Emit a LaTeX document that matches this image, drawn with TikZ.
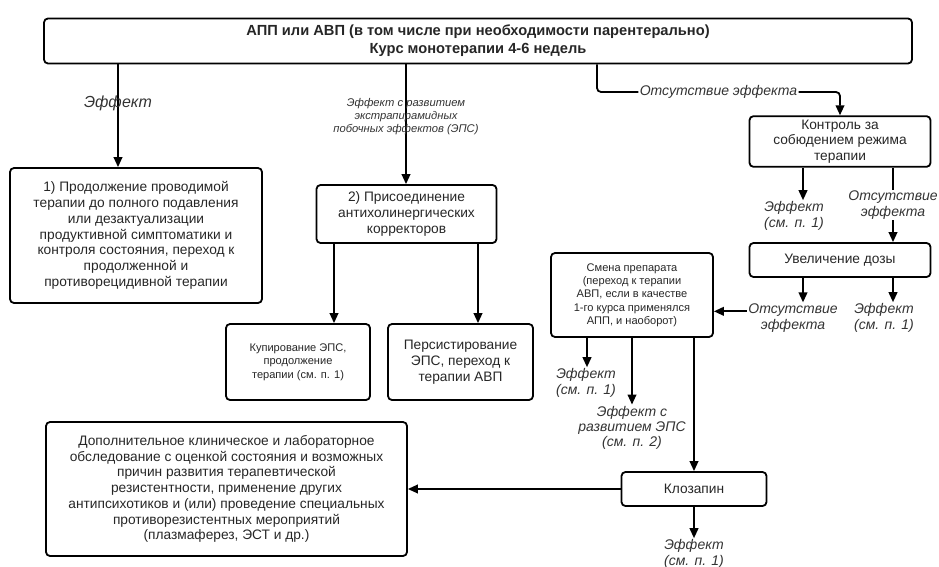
\documentclass[tikz,border=0pt]{standalone}
\usepackage{fontspec}
\setmainfont{Liberation Sans}
\usetikzlibrary{
    positioning,
    arrows.meta,
    calc,
}
\tikzset{
    % Box styles
    stage/.style={rectangle, draw, rounded corners=3pt, line width=1.35pt,
                  align=center, inner sep=2pt, text=black!85},
    % Arrow styles
    arrow/.style={-{Triangle[length=7.5pt,width=6.5pt]}, line width=1.35pt},
    % Annotation styles
    annot/.style={font=\fontsize{10.5}{11.5}\selectfont\itshape, align=center,
                  inner sep=1pt, text=black!80},
}

\begin{document}
\begin{tikzpicture}[x=0.75pt, y=-0.75pt,
    main/.style={stage, font=\fontsize{10.3}{11.8}\selectfont},
    small/.style={stage, font=\fontsize{8.3}{10}\selectfont},
]
    \useasboundingbox (0,0) rectangle (939,567);

    % Columns of the connectors
    \coordinate (c1) at (118,0);
    \coordinate (c2) at (406,0);
    \coordinate (c3) at (597,0);
    \coordinate (c5) at (803,0);
    \coordinate (c6) at (893,0);
    \coordinate (c7) at (334,0);
    \coordinate (c8) at (478,0);
    \coordinate (c9) at (587,0);
    \coordinate (c10) at (632,0);
    \coordinate (c11) at (694,0);
    \coordinate (bend) at (840,92);

    % Start
    \node[stage, font=\fontsize{11}{13.5}\selectfont\bfseries,
          minimum width=651pt, minimum height=33.75pt] (start) at (478,41)
        {АПП или АВП (в том числе при необходимости парентерально)\\Курс монотерапии 4-6 недель};

    % Effect
    \node[main, minimum width=189pt, minimum height=101.25pt] (cont) at (136,235.5)
        {1) Продолжение проводимой\\терапии до полного подавления\\или дезактуализации\\продуктивной симптоматики и\\контроля состояния, переход к\\продолженной и\\противорецидивной терапии};

    % EPS
    \node[main, minimum width=135pt, minimum height=43.5pt] (corr) at (406.5,214)
        {2) Присоединение\\антихолинергических\\корректоров};
    \node[small, minimum width=108pt, minimum height=57pt] (kup) at (298,362)
        {Купирование ЭПС,\\продолжение\\терапии (см. п. 1)};
    \node[main, minimum width=108.75pt, minimum height=57pt] (pers) at (460.5,362)
        {Персистирование\\ЭПС, переход к\\терапии АВП};

    % No effect
    \node[main, minimum width=135.75pt, minimum height=38pt] (ctrl) at (840,141.5)
        {Контроль за\\собюдением режима\\терапии};
    \node[main, minimum width=135.75pt, minimum height=25.5pt] (dose) at (840,260)
        {Увеличение дозы};
    \node[small, minimum width=121.5pt, minimum height=63pt] (swap) at (632,295)
        {Смена препарата\\(переход к терапии\\АВП, если в качестве\\1-го курса применялся\\АПП, и наоборот)};
    \node[main, minimum width=108.75pt, minimum height=25.5pt] (cloz) at (694,489)
        {Клозапин};
    \node[main, minimum width=270.75pt, minimum height=100.5pt] (extra) at (226.5,489)
        {Дополнительное клиническое и лабораторное\\обследование с оценкой состояния и возможных\\причин развития терапевтической\\резистентности, применение других\\антипсихотиков и (или) проведение специальных\\противорезистентных мероприятий\\(плазмаферез, ЭСТ и др.)};

    % Outcome labels
    \node[annot] (ctrl eff) at (794,216) {Эффект\\(см. п. 1)};
    \node[annot] (dose none) at (793,318) {Отсутствие\\эффекта};
    \node[annot] (dose eff) at (884,318) {Эффект\\(см. п. 1)};
    \node[annot] (swap eff) at (586,383) {Эффект\\(см. п. 1)};
    \node[annot] (swap eps) at (632,428) {Эффект с\\развитием ЭПС\\(см. п. 2)};
    \node[annot] (cloz eff) at (694,554) {Эффект\\(см. п. 1)};

    % Connectors
    \draw[arrow] (start.south -| c1) -- node[annot, pos=0.38, font=\fontsize{12}{13}\selectfont\itshape] {Эффект} (cont.north -| c1);
    \draw[arrow] (start.south -| c2) -- node[annot, pos=0.44, font=\fontsize{8.4}{9.75}\selectfont\itshape]
        {Эффект с развитием\\экстрапирамидных\\побочных эффектов (ЭПС)} (corr.north -| c2);
    \draw[arrow, rounded corners=3pt] (start.south -| c3) |- node[annot, pos=0.75, fill=white] {Отсутствие эффекта} (bend) -- (ctrl.north);
    \draw[arrow] (corr.south -| c7) -- (kup.north -| c7);
    \draw[arrow] (corr.south -| c8) -- (pers.north -| c8);
    \draw[arrow] (ctrl.south -| c5) -- (ctrl eff.north -| c5);
    \draw[arrow] (ctrl.south -| c6) -- node[annot, fill=white] {Отсутствие\\эффекта} (dose.north -| c6);
    \draw[arrow] (dose.south -| c5) -- (dose none.north -| c5);
    \draw[arrow] (dose.south -| c6) -- (dose eff.north -| c6);
    \coordinate (none out) at ([yshift=5pt]dose none.west);
    \draw[arrow] (none out) -- (none out -| swap.east);
    \draw[arrow] (swap.south -| c9) -- (swap eff.north -| c9);
    \draw[arrow] (swap.south -| c10) -- (swap eps.north -| c10);
    \draw[arrow] (swap.south -| c11) -- (cloz.north -| c11);
    \draw[arrow] (cloz.west) -- (extra.east);
    \draw[arrow] (cloz.south -| c11) -- (cloz eff.north -| c11);
\end{tikzpicture}
\end{document}
